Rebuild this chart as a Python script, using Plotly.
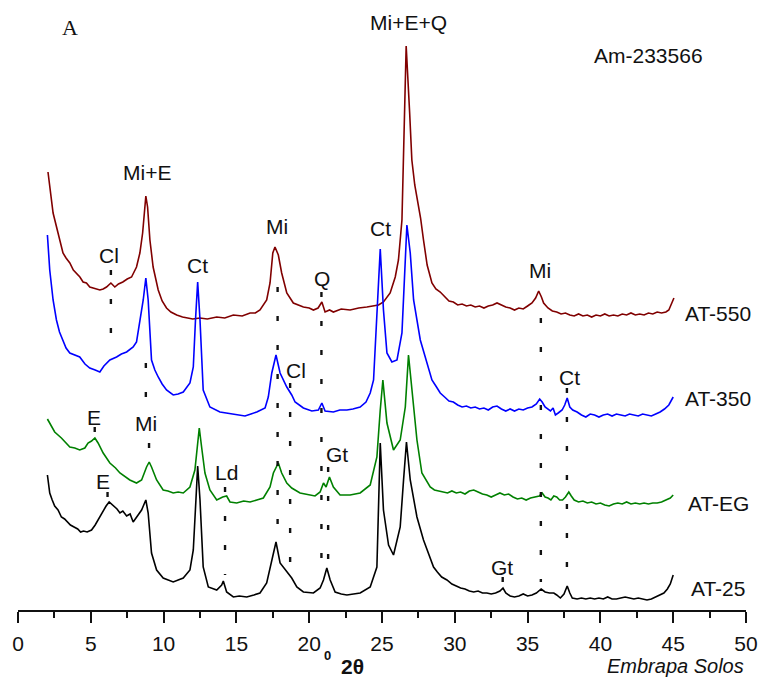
import plotly.graph_objects as go

# ---- AT-550 (dark red) ----
theta_550 = [2.06, 2.18, 2.41, 2.75, 3.09, 3.3, 3.56, 3.8, 4.02, 4.25, 4.47, 4.7, 4.93, 5.2, 5.62, 5.85, 6.08, 6.38, 6.65, 6.9,
             7.2, 7.5, 7.8, 8.14, 8.37, 8.56, 8.67, 8.78, 8.9, 9.06, 9.28, 9.63, 9.9, 10.2, 10.5, 10.9, 11.3, 11.58, 12.0,
             12.5, 13.0, 13.65, 14.2, 14.79, 15.4, 15.94, 16.3, 16.62, 17.08, 17.31, 17.5, 17.65, 17.88, 18.11, 18.46,
             18.91, 19.25, 19.6, 20.0, 20.29, 20.61, 20.87, 21.09, 21.4, 21.66, 22.2, 22.81, 23.4, 23.96, 24.4, 24.76,
             25.1, 25.56, 25.91, 26.13, 26.37, 26.48, 26.66, 26.9, 27.05, 27.25, 27.45, 27.65, 27.85, 28.1,
             28.43, 28.7, 29.0, 29.3, 29.6, 29.9, 30.2, 30.5, 30.8, 31.1, 31.4, 31.7, 32.0, 32.3, 32.6, 32.9, 33.2, 33.5,
             33.8, 34.1, 34.4, 34.7, 35.0, 35.3, 35.55, 35.76, 35.95, 36.1, 36.4, 36.7, 37.0, 37.3, 37.6, 37.9, 38.2,
             38.5, 38.8, 39.1, 39.4, 39.7, 40.0, 40.3, 40.6, 40.9, 41.2, 41.5, 41.8, 42.1, 42.4, 42.7, 43.0, 43.3, 43.6,
             43.9, 44.2, 44.5, 44.7, 44.85, 45.05]
int_550 = [438, 423, 397, 377, 357, 352, 347, 340, 337, 333, 328, 327, 323, 322, 320, 321, 323, 327, 323, 326,
           328, 331, 333, 343, 357, 377, 400, 414, 403, 370, 343, 320, 309, 302, 298, 295, 293, 292, 291,
           292, 291, 293, 292, 295, 294, 297, 297, 300, 310, 327, 357, 363, 355, 337, 317,
           307, 305, 303, 302, 300, 302, 308, 298, 300, 298, 301, 300, 302, 303, 304, 305,
           308, 317, 333, 350, 390, 460, 564, 497, 450, 425, 408, 392, 370, 345,
           327, 321, 318, 313, 309, 308, 305, 306, 304, 305, 303, 304, 302, 304, 305, 307, 305, 303,
           302, 300, 302, 301, 304, 307, 312, 319, 313, 307, 302, 299, 298, 296, 297, 295, 294,
           296, 294, 295, 293, 295, 294, 296, 294, 295, 294, 296, 295, 297, 295, 296, 295, 297, 296,
           298, 297, 298, 300, 306, 312]

# ---- AT-350 (blue) ----
theta_350 = [2.02, 2.18, 2.41, 2.64, 2.85, 3.09, 3.3, 3.56, 3.9, 4.24, 4.6, 4.93, 5.3, 5.62, 5.9, 6.31, 6.77, 7.1, 7.46, 7.91,
             8.14, 8.37, 8.6, 8.78, 8.94, 9.17, 9.4, 9.63, 9.9, 10.2, 10.66, 11.0, 11.35, 11.81, 12.04, 12.19, 12.34, 12.5,
             12.72, 13.18, 13.87, 14.3, 14.79, 15.2, 15.59, 16.0, 16.4, 16.97, 17.19, 17.43, 17.72, 18.0, 18.46, 18.8,
             19.03, 19.6, 20.18, 20.63, 20.87, 21.09, 21.66, 22.1, 22.59, 23.0, 23.5, 23.9, 24.19, 24.42, 24.65, 24.88,
             25.1, 25.34, 25.68, 26.03, 26.37, 26.6, 26.71, 26.94, 27.17, 27.63, 28.09,
             28.43, 28.7, 29.0, 29.3, 29.6, 29.9, 30.2, 30.5, 30.8, 31.1, 31.4, 31.7, 32.0, 32.3, 32.6, 32.9, 33.2, 33.5,
             33.8, 34.1, 34.4, 34.7, 35.0, 35.3, 35.6, 35.83, 36.0, 36.2, 36.4, 36.57, 36.75, 36.91, 37.1, 37.37, 37.55,
             37.72, 37.9, 38.1, 38.4, 38.7, 39.0, 39.3, 39.6, 39.9, 40.2, 40.5, 40.8, 41.1, 41.4, 41.7, 42.0, 42.3, 42.6,
             42.9, 43.2, 43.5, 43.8, 44.1, 44.4, 44.7, 45.0]
int_350 = [375, 340, 310, 290, 278, 270, 262, 257, 255, 253, 246, 242, 240, 238, 244, 250, 253, 256, 258, 263,
           268, 287, 310, 332, 310, 250, 240, 233, 226, 220, 215, 216, 218, 227, 243, 290, 328, 290,
           220, 203, 198, 197, 196, 195, 194, 196, 198, 202, 213, 237, 255, 237, 223, 215,
           208, 202, 199, 200, 207, 199, 198, 200, 200, 201, 203, 208, 217, 230, 300, 361,
           300, 257, 248, 250, 277, 350, 385, 357, 310, 270, 247,
           230, 224, 217, 213, 209, 208, 205, 203, 204, 202, 203, 201, 202, 200, 203, 204, 201, 199,
           201, 199, 201, 200, 202, 203, 206, 211, 208, 203, 201, 199, 202, 195, 197, 200, 205,
           212, 203, 200, 198, 195, 193, 196, 195, 193, 195, 196, 194, 196, 195, 194, 196, 195, 194,
           196, 195, 194, 196, 198, 201, 205, 213]

# ---- AT-EG (green) ----
theta_eg = [2.02, 2.18, 2.52, 2.98, 3.3, 3.56, 3.9, 4.24, 4.59, 4.81, 5.05, 5.28, 5.5, 5.85, 6.31, 6.7, 7.0, 7.3, 7.68, 8.14,
            8.49, 8.83, 9.01, 9.17, 9.52, 9.97, 10.3, 10.66, 11.0, 11.35, 11.81, 12.15, 12.31, 12.45, 12.61, 12.84,
            13.18, 13.65, 14.06, 14.33, 14.56, 15.02, 15.5, 15.94, 16.4, 16.85, 17.31, 17.54, 17.88, 18.11, 18.46,
            18.8, 19.37, 19.94, 20.4, 20.75, 20.98, 21.16, 21.39, 21.66, 22.12, 22.81, 23.5, 24.19, 24.65, 24.88, 25.06,
            25.34, 25.79, 26.25, 26.6, 26.82, 27.06, 27.4, 27.74,
            28.31, 28.6, 28.9, 29.2, 29.5, 29.8, 30.1, 30.4, 30.7, 31.0, 31.3, 31.6, 31.9, 32.2, 32.5, 32.8, 33.1, 33.4,
            33.7, 34.0, 34.3, 34.6, 34.9, 35.2, 35.5, 35.8, 36.0, 36.2, 36.4, 36.6, 36.8, 37.0, 37.2, 37.4, 37.6, 37.83,
            38.0, 38.2, 38.5, 38.8, 39.1, 39.4, 39.7, 40.0, 40.3, 40.6, 40.9, 41.2, 41.5, 41.8, 42.1, 42.4, 42.7, 43.0,
            43.3, 43.6, 43.9, 44.2, 44.5, 44.8, 45.0]
int_eg = [191, 187, 178, 172, 167, 163, 162, 160, 162, 167, 169, 172, 167, 157, 147, 142, 137, 134, 130, 127,
          130, 143, 148, 143, 130, 120, 119, 117, 118, 117, 123, 140, 163, 182, 163, 137,
          120, 110, 113, 114, 108, 107, 109, 108, 110, 112, 123, 137, 147, 137, 127,
          122, 117, 115, 114, 118, 127, 123, 133, 123, 115, 115, 117, 125, 153, 200, 230,
          187, 160, 170, 203, 255, 220, 170, 137,
          123, 120, 119, 118, 117, 119, 117, 118, 116, 119, 120, 118, 116, 115, 113, 115, 117, 115,
          116, 113, 111, 112, 110, 112, 113, 114, 117, 113, 112, 110, 114, 113, 110, 110, 113, 118,
          114, 110, 108, 109, 107, 108, 106, 107, 105, 104, 106, 107, 106, 108, 106, 107, 106, 107,
          106, 107, 107, 108, 110, 112, 115]

# ---- AT-25 (black) ----
theta_25 = [2.02, 2.18, 2.35, 2.52, 2.75, 2.98, 3.2, 3.4, 3.6, 3.85, 4.1, 4.3, 4.5, 4.75, 5.05, 5.3, 5.5, 5.7, 5.85, 6.05,
            6.26, 6.4, 6.53, 6.8, 7.0, 7.2, 7.46, 7.7, 7.91, 8.14, 8.49, 8.78, 8.94, 9.17, 9.52, 9.97, 10.3, 10.66, 11.0,
            11.35, 11.81, 12.04, 12.22, 12.34, 12.5, 12.72, 13.07,
            13.65, 13.99, 14.1, 14.33, 14.79, 15.2, 15.71, 16.2, 16.62, 17.08, 17.43, 17.72, 18.0, 18.46, 18.8, 19.15,
            19.6, 20.29, 20.75, 20.98, 21.21, 21.44, 21.78, 22.2, 22.59, 23.5, 24.19, 24.65, 24.77, 24.88, 25.1, 25.45,
            25.79, 26.25, 26.48, 26.68, 26.94, 27.06, 27.4, 27.85, 28.2,
            28.54, 28.8, 29.1, 29.46, 29.8, 30.1, 30.4, 30.7, 31.0, 31.3, 31.6, 31.9, 32.2, 32.5, 32.8, 33.1, 33.31, 33.5,
            33.8, 34.1, 34.4, 34.7, 35.0, 35.3, 35.6, 35.93, 36.2, 36.5, 36.8, 37.0, 37.25, 37.5, 37.72, 37.9, 38.07,
            38.4, 38.7, 39.0, 39.3, 39.6, 39.9, 40.2, 40.5, 40.8, 41.1, 41.4, 41.7, 42.0, 42.3, 42.6, 42.9, 43.2, 43.5,
            43.8, 44.1, 44.36, 44.6, 44.8, 45.0]
int_25 = [135, 117, 110, 104, 100, 93, 91, 88, 85, 83, 81, 78, 79, 78, 80, 85, 90, 96, 100, 104,
          108, 106, 104, 101, 97, 99, 94, 96, 88, 93, 100, 110, 97, 57, 40, 32, 30, 28, 30,
          32, 40, 60, 110, 144, 110, 43, 23,
          20, 25, 29, 18, 13, 14, 13, 15, 17, 27, 50, 68, 47, 38, 32, 23,
          18, 17, 22, 30, 42, 30, 18, 16, 15, 17, 23, 43, 100, 167, 100, 65,
          55, 83, 130, 168, 130, 120, 93, 70, 56,
          43, 38, 33, 30, 26, 24, 22, 21, 19, 18, 19, 17, 17, 16, 17, 19, 22, 17,
          14, 13, 14, 16, 14, 15, 17, 21, 18, 17, 17, 15, 12, 16, 24, 17, 12,
          11, 12, 11, 12, 11, 12, 11, 13, 11, 11, 12, 13, 12, 11, 12, 11, 10, 11,
          13, 15, 17, 21, 26, 35]

# ---- dotted reference lines (2θ position, upper and lower intensity ends) ----
ref_theta = [6.38, 8.78, 9.0, 17.83, 18.69, 20.84, 21.3, 14.22, 5.27, 6.15, 35.91, 37.7, 33.29]
ref_top = [340, 247, 167, 323, 227, 318, 143, 123, 183, 118, 292, 222, 33]
ref_bottom = [258, 208, 162, 78, 43, 35, 48, 35, 178, 113, 28, 30, 27]

# ---- phase labels ----
label_text = ["Mi+E+Q", "Mi+E", "Cl", "Ct", "Mi", "Q", "Ct", "Mi", "Cl", "Ct",
              "E", "Mi", "Gt", "Ld", "E", "Gt"]
label_theta = [26.8, 8.85, 6.24, 12.34, 17.77, 20.87, 24.88, 35.83, 19.1, 37.88,
               5.23, 8.76, 21.9, 14.33, 5.85, 33.25]
label_int = [588, 438, 355, 345, 384, 332, 382, 340, 240, 233,
             193, 187, 156, 138, 129, 43]

sample_names = ["AT-550", "AT-350", "AT-EG", "AT-25"]
sample_label_int = [297, 212, 107, 22]

x_ticks = [0, 5, 10, 15, 20, 25, 30, 35, 40, 45, 50]

series = [
    (theta_550, int_550, "#800000"),
    (theta_350, int_350, "#0000FF"),
    (theta_eg, int_eg, "#008000"),
    (theta_25, int_25, "#000000"),
]

fig = go.Figure()
for th, it, col in series:
    fig.add_trace(go.Scatter(x=th, y=it, mode="lines", line=dict(color=col, width=1.6),
                             showlegend=False, hoverinfo="skip"))

for t, top, bot in zip(ref_theta, ref_top, ref_bottom):
    fig.add_trace(go.Scatter(x=[t, t], y=[top, bot], mode="lines",
                             line=dict(color="#111111", width=2.4, dash="5px,24px"),
                             showlegend=False, hoverinfo="skip"))

FONT = "Liberation Sans, Arial, sans-serif"
TXT = "#111111"
ann = []
for txt, tx, ty in zip(label_text, label_theta, label_int):
    ann.append(dict(x=tx, y=ty, xref="x", yref="y", text=txt, showarrow=False,
                    xanchor="center", yanchor="middle",
                    font=dict(family=FONT, size=21, color=TXT)))
for name, ty in zip(sample_names, sample_label_int):
    ann.append(dict(x=48.1, y=ty, xref="x", yref="y", text=name, showarrow=False,
                    xanchor="center", yanchor="middle",
                    font=dict(family=FONT, size=21, color=TXT)))
ann.append(dict(x=43.3, y=555, xref="x", yref="y", text="Am-233566", showarrow=False,
                xanchor="center", yanchor="middle",
                font=dict(family=FONT, size=21, color=TXT)))
ann.append(dict(x=3.56, y=583, xref="x", yref="y", text="A", showarrow=False,
                xanchor="center", yanchor="middle",
                font=dict(family="Liberation Serif, Times New Roman, serif", size=22, color=TXT)))
ann.append(dict(x=21.23, y=-0.074, xref="x", yref="paper", text="<b>0</b>", showarrow=False,
                xanchor="center", yanchor="middle",
                font=dict(family=FONT, size=13, color=TXT)))
ann.append(dict(x=22.94, y=-0.092, xref="x", yref="paper", text="<b>2θ</b>", showarrow=False,
                xanchor="center", yanchor="middle",
                font=dict(family=FONT, size=21, color=TXT)))
ann.append(dict(x=1.0, y=-0.091, xref="paper", yref="paper", xanchor="right", yanchor="middle",
                text="<i>Embrapa Solos</i>", showarrow=False,
                font=dict(family=FONT, size=20, color=TXT)))

fig.update_layout(
    width=762, height=680,
    margin=dict(l=18, r=16, t=0, b=70),
    paper_bgcolor="white", plot_bgcolor="white",
    annotations=ann,
    xaxis=dict(range=[0, 50], tickvals=x_ticks, showgrid=False, zeroline=False,
               showline=True, linecolor=TXT, linewidth=2,
               ticks="outside", ticklen=11, tickwidth=2, tickcolor=TXT,
               ticklabelstandoff=3,
               tickfont=dict(family=FONT, size=21, color=TXT),
               minor=dict(dtick=2.5, tick0=0, ticks="outside", ticklen=6, tickwidth=2, tickcolor=TXT)),
    yaxis=dict(range=[0, 610], visible=False, showgrid=False, zeroline=False),
)

fig.write_html("out.html")
